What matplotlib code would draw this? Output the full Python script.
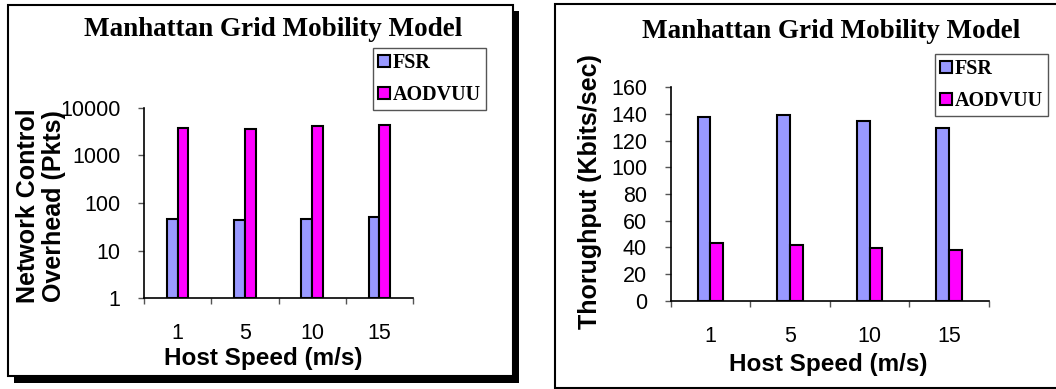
import matplotlib
matplotlib.use("Agg")
import matplotlib.pyplot as plt
from matplotlib.patches import Rectangle, Patch
import numpy as np

speeds = ["1", "5", "10", "15"]
series = ["FSR", "AODVUU"]
overhead_fsr = [47, 45, 47, 50]
overhead_aodvuu = [3800, 3600, 4100, 4400]
throughput_fsr = [137.5, 139.5, 134.5, 129.5]
throughput_aodvuu = [43.5, 41.5, 39.5, 38.0]
overhead_ticks = [1, 10, 100, 1000, 10000]
overhead_ticklabels = ["1", "10", "100", "1000", "10000"]
throughput_ticks = [0, 20, 40, 60, 80, 100, 120, 140, 160]

title = "Manhattan Grid Mobility Model"
colors = ["#9999FF", "#FF00FF"]

W, H = 1056, 389
fig = plt.figure(figsize=(W / 100, H / 100), dpi=100)

def fx(px):
    return px / W

def fy(py):
    return 1 - py / H

SANS = "Liberation Sans"
SERIF = "Liberation Serif"
TICK_FS = 15.5

# panel frames
fig.patches.append(Rectangle((fx(13.5), fy(383)), fx(519) - fx(13.5), fy(11) - fy(383),
                             transform=fig.transFigure, facecolor="black", edgecolor="none", zorder=-3))
fig.patches.append(Rectangle((fx(7.5), fy(376)), fx(512.5) - fx(7.5), fy(5) - fy(376),
                             transform=fig.transFigure, facecolor="white", edgecolor="black",
                             linewidth=1.5, zorder=-2))
fig.patches.append(Rectangle((fx(555), fy(387.5)), fx(1070) - fx(555), fy(3.5) - fy(387.5),
                             transform=fig.transFigure, facecolor="white", edgecolor="black",
                             linewidth=1.5, zorder=-2))


def make_axes(x0, x1, y0, y1):
    return fig.add_axes([fx(x0), fy(y1), fx(x1) - fx(x0), fy(y0) - fy(y1)])


def draw_bars(ax, a, b, bottom):
    x = np.arange(len(speeds))
    w = 0.16
    ax.bar(x - w / 2, np.array(a) - bottom, w, bottom=bottom, color=colors[0],
           edgecolor="black", linewidth=1.5, zorder=3)
    ax.bar(x + w / 2, np.array(b) - bottom, w, bottom=bottom, color=colors[1],
           edgecolor="black", linewidth=1.5, zorder=3)
    ax.set_xlim(-0.5, len(speeds) - 0.5)
    ax.set_xticks(np.arange(len(speeds) + 1) - 0.5)
    ax.set_xticklabels([])
    ax.set_xticks(x, minor=True)
    ax.set_xticklabels(speeds, minor=True, fontsize=TICK_FS, family=SANS)
    ax.tick_params(axis="x", which="major", direction="out", length=4, width=1, color="#555555")
    ax.tick_params(axis="x", which="minor", length=0, pad=18)
    ax.tick_params(axis="y", which="major", direction="out", length=4, width=1, color="#555555", pad=13,
                   labelsize=TICK_FS)
    ax.tick_params(axis="y", which="minor", length=0)
    for lab in ax.get_yticklabels():
        lab.set_family(SANS)
    for s in ["top", "right"]:
        ax.spines[s].set_visible(False)
    for s in ["left", "bottom"]:
        ax.spines[s].set_linewidth(1.2)
    ax.set_facecolor("none")


# left chart
ax1 = make_axes(144, 413, 107.7, 298.3)
ax1.set_yscale("log")
ax1.set_ylim(1, 10000)
draw_bars(ax1, overhead_fsr, overhead_aodvuu, 1)
ax1.set_yticks(overhead_ticks)
ax1.set_yticklabels(overhead_ticklabels, family=SANS, fontsize=TICK_FS)
ax1.yaxis.set_minor_locator(matplotlib.ticker.NullLocator())

# right chart
ax2 = make_axes(670.7, 989, 87.3, 300.7)
ax2.set_ylim(0, 160)
draw_bars(ax2, throughput_fsr, throughput_aodvuu, 0)
ax2.set_yticks(throughput_ticks)
ax2.set_yticklabels([str(t) for t in throughput_ticks], family=SANS, fontsize=TICK_FS)

# titles
fig.text(fx(273), fy(29), title, ha="center", va="center", family=SERIF,
         fontweight="bold", fontsize=19.5)
fig.text(fx(831), fy(32), title, ha="center", va="center", family=SERIF,
         fontweight="bold", fontsize=19.5)

# axis labels
fig.text(fx(263), fy(359), "Host Speed (m/s)", ha="center", va="center", family=SANS,
         fontweight="bold", fontsize=17.5)
fig.text(fx(828), fy(364), "Host Speed (m/s)", ha="center", va="center", family=SANS,
         fontweight="bold", fontsize=17.5)
fig.text(fx(41), fy(206), "Network Control\nOverhead (Pkts)", ha="center", va="center",
         rotation=90, family=SANS, fontweight="bold", fontsize=18, linespacing=1.15)
fig.text(fx(590), fy(192), "Thorughput (Kbits/sec)", ha="center", va="center",
         rotation=90, family=SANS, fontweight="bold", fontsize=18)

# legends
handles = [Patch(facecolor=c, edgecolor="black", linewidth=1.5) for c in colors]
for ax, (lx, ly) in [(ax1, (373, 48)), (ax2, (935, 54))]:
    leg = ax.legend(handles, series, loc="upper left",
                    bbox_to_anchor=(fx(lx), fy(ly)), bbox_transform=fig.transFigure,
                    prop={"family": SERIF, "weight": "bold", "size": 14.5},
                    frameon=True, fancybox=False, edgecolor="#555555", framealpha=1,
                    handlelength=0.6, handleheight=0.6, handletextpad=0.15,
                    borderpad=0.25, labelspacing=0.6, borderaxespad=0)
    leg.get_frame().set_linewidth(1.0)

fig.savefig("out.png", dpi=100)
